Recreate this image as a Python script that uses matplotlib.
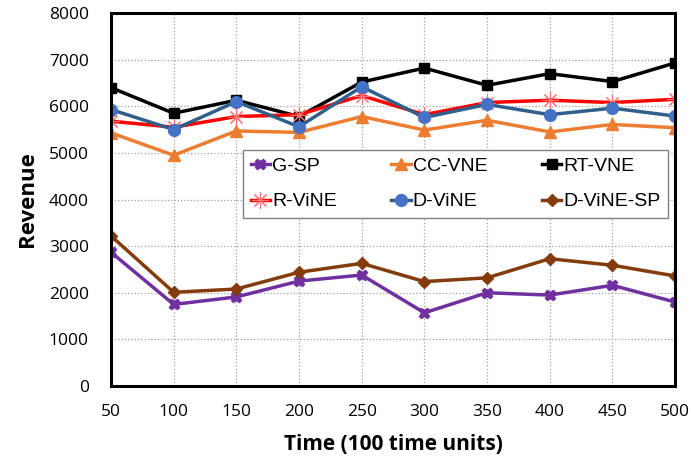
import matplotlib.pyplot as plt

time = [50, 100, 150, 200, 250, 300, 350, 400, 450, 500]

g_sp = [2870, 1750, 1910, 2250, 2380, 1570, 2000, 1950, 2160, 1800]
cc_vne = [5430, 4950, 5470, 5440, 5780, 5490, 5700, 5450, 5610, 5540]
rt_vne = [6400, 5850, 6130, 5780, 6520, 6820, 6450, 6700, 6530, 6930]
r_vine = [5680, 5550, 5780, 5820, 6230, 5820, 6080, 6130, 6080, 6150]
d_vine = [5930, 5500, 6100, 5560, 6420, 5760, 6040, 5820, 5960, 5790]
d_vine_sp = [3220, 2010, 2080, 2440, 2630, 2240, 2320, 2730, 2590, 2360]

fig = plt.figure(figsize=(6.91, 4.66), dpi=100)
ax = fig.add_axes([0.1606, 0.1717, 0.8164, 0.8003])

lw = 2.5
ax.plot(time, g_sp, color='#7030A0', marker='X', markersize=7.5, lw=lw, label='G-SP')
ax.plot(time, cc_vne, color='#ED7D31', marker='^', markersize=8.5, lw=lw, label='CC-VNE')
ax.plot(time, rt_vne, color='black', marker='s', markersize=7.5, lw=lw, label='RT-VNE')
ax.plot(time, r_vine, color='red', marker=(8, 2, 0), markersize=12, lw=lw,
        markeredgewidth=0.8, markeredgecolor='#FF7070', label='R-ViNE')
ax.plot(time, d_vine, color='#2F5F8A', marker='o', markersize=8.5, lw=lw,
        markerfacecolor='#4472C4', markeredgecolor='#4472C4', label='D-ViNE')
ax.plot(time, d_vine_sp, color='#843C0C', marker='D', markersize=6.5, lw=lw, label='D-ViNE-SP')

ax.set_xlim(50, 500)
ax.set_ylim(0, 8000)
ax.set_xticks(time)
ax.set_yticks(range(0, 8001, 1000))
ax.grid(True, color='#A0A0A0', linestyle=':', linewidth=0.9)
for s in ax.spines.values():
    s.set_linewidth(2.2)
ax.tick_params(length=0, labelsize=12.5)
ax.tick_params(axis='x', pad=13)
ax.tick_params(axis='y', pad=16)
for lab in ax.get_xticklabels() + ax.get_yticklabels():
    lab.set_family('Open Sans')

ax.set_xlabel('Time (100 time units)', fontsize=15, fontweight='bold',
              family='Open Sans', labelpad=10)
ax.set_ylabel('Revenue', fontsize=16, fontweight='bold', family='Open Sans', labelpad=8)

# matplotlib fills legend columns first, so reorder to get the row-wise layout
h, l = ax.get_legend_handles_labels()
order = [0, 3, 1, 4, 2, 5]
leg = ax.legend([h[i] for i in order], [l[i] for i in order], ncol=3, loc='lower left',
                bbox_to_anchor=(0.234, 0.45, 0.754, 0.199),
                mode='expand', fancybox=False, edgecolor='#808080', framealpha=1,
                prop={'family': 'Liberation Sans', 'size': 14}, handlelength=1.0,
                handletextpad=0.1, borderaxespad=0, labelspacing=0.9)
leg.get_frame().set_linewidth(1.0)

fig.savefig('out.png', dpi=100)
